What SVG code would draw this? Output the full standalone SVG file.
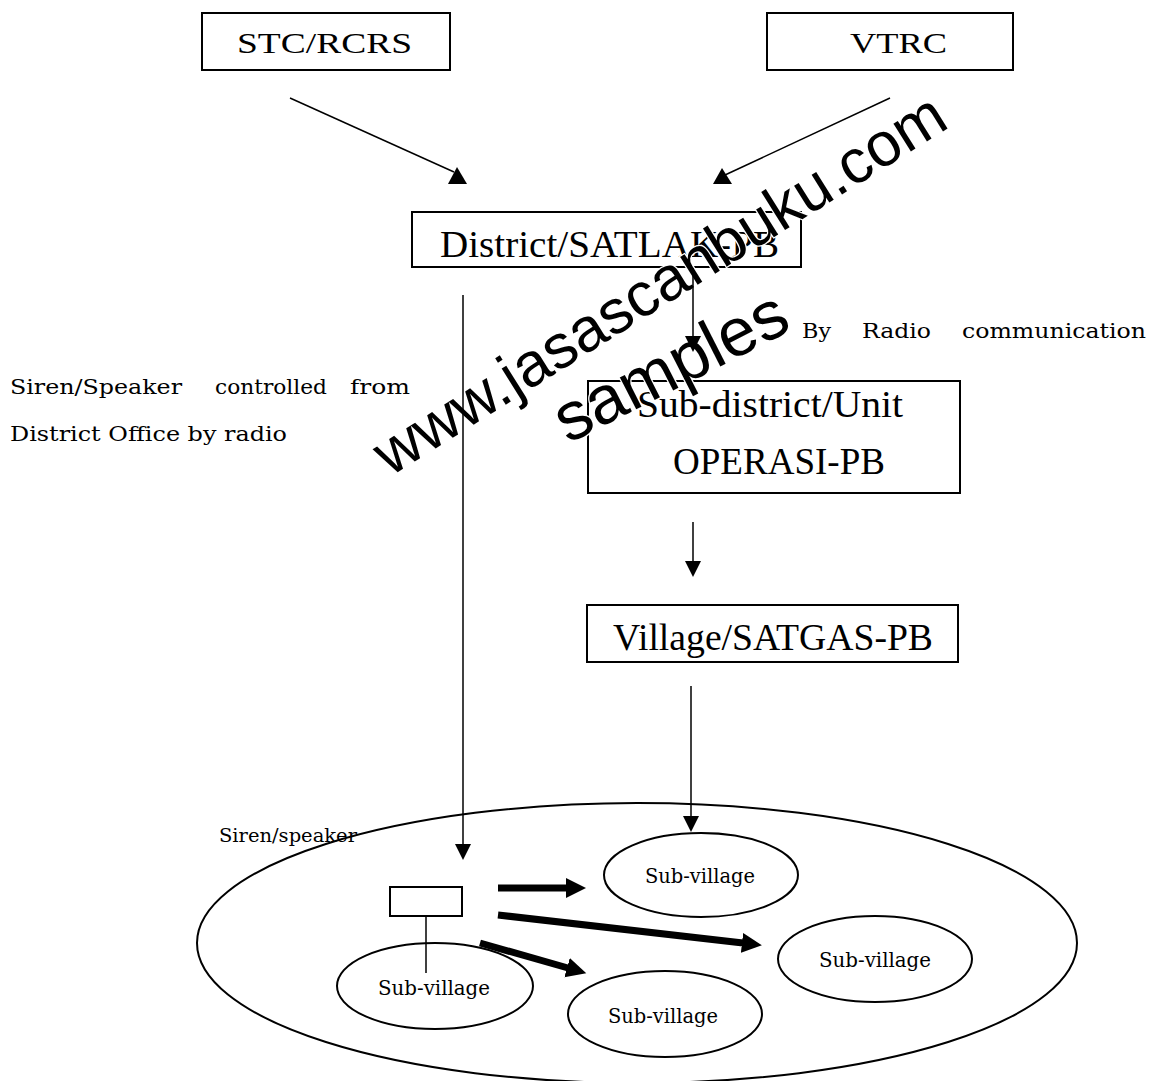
<svg xmlns="http://www.w3.org/2000/svg" width="1155" height="1081" viewBox="0 0 1155 1081">
<style>
.box{fill:#fff;stroke:#000;stroke-width:2}
.lbl{font-family:"Liberation Serif","Times New Roman",serif;fill:#000}
.sm{font-family:"DejaVu Serif","Liberation Serif",serif;fill:#000}
.ln{stroke:#000;stroke-width:1.5;fill:none}
.thick{stroke:#000;stroke-width:7;fill:none}
.ell{fill:none;stroke:#000;stroke-width:2}
.head{fill:#000;stroke:none}
.wm{font-family:"Liberation Sans",Arial,sans-serif;fill:#000;stroke:#fff;stroke-width:2.5;paint-order:stroke}
</style>
<defs>
<marker id="thin" markerUnits="userSpaceOnUse" markerWidth="18" markerHeight="18" viewBox="0 -9 18 18" refX="0" refY="0" orient="auto">
<path d="M0,-8 L16,0 L0,8 z" fill="#000"/>
</marker>
<marker id="fat" markerUnits="userSpaceOnUse" markerWidth="22" markerHeight="22" viewBox="0 -11 22 22" refX="1" refY="0" orient="auto">
<path d="M0,-10 L20,0 L0,10 z" fill="#000"/>
</marker>
</defs>
<rect width="1155" height="1081" fill="#fff"/>

<g id="area">
<ellipse class="ell" cx="637" cy="943" rx="440" ry="140"/>
</g>

<g id="stc">
<rect class="box" x="202" y="13" width="248" height="57"/>
<text class="lbl" x="237" y="53" font-size="30" textLength="175" lengthAdjust="spacingAndGlyphs">STC/RCRS</text>
</g>
<g id="vtrc">
<rect class="box" x="767" y="13" width="246" height="57"/>
<text class="lbl" x="850" y="53" font-size="30" textLength="97" lengthAdjust="spacingAndGlyphs">VTRC</text>
</g>
<g id="district">
<rect class="box" x="412" y="212" width="389" height="55"/>
<text class="lbl" x="440" y="257" font-size="38" textLength="339" lengthAdjust="spacingAndGlyphs">District/SATLAK-PB</text>
</g>
<g id="subdistrict">
<rect class="box" x="588" y="381" width="372" height="112"/>
<text class="lbl" x="637" y="417" font-size="38" textLength="266" lengthAdjust="spacingAndGlyphs">Sub-district/Unit</text>
<text class="lbl" x="673" y="474" font-size="38" textLength="212" lengthAdjust="spacingAndGlyphs">OPERASI-PB</text>
</g>
<g id="village">
<rect class="box" x="587" y="605" width="371" height="57"/>
<text class="lbl" x="613" y="650" font-size="38" textLength="320" lengthAdjust="spacingAndGlyphs">Village/SATGAS-PB</text>
</g>

<g id="siren">
<rect class="box" x="390" y="887" width="72" height="29"/>
<line class="ln" x1="426" y1="916" x2="426" y2="973"/>
<text class="sm" x="219" y="842" font-size="19" textLength="138" lengthAdjust="spacingAndGlyphs">Siren/speaker</text>
</g>

<g id="subvillage-1">
<ellipse class="ell" cx="435" cy="986" rx="98" ry="43"/>
<text class="sm" x="378" y="995" font-size="20" textLength="112" lengthAdjust="spacingAndGlyphs">Sub-village</text>
</g>
<g id="subvillage-2">
<ellipse class="ell" cx="701" cy="875" rx="97" ry="42"/>
<text class="sm" x="645" y="883" font-size="20" textLength="110" lengthAdjust="spacingAndGlyphs">Sub-village</text>
</g>
<g id="subvillage-3">
<ellipse class="ell" cx="875" cy="959" rx="97" ry="43"/>
<text class="sm" x="819" y="967" font-size="20" textLength="112" lengthAdjust="spacingAndGlyphs">Sub-village</text>
</g>
<g id="subvillage-4">
<ellipse class="ell" cx="665" cy="1014" rx="97" ry="43"/>
<text class="sm" x="608" y="1023" font-size="20" textLength="110" lengthAdjust="spacingAndGlyphs">Sub-village</text>
</g>

<g id="notes">
<text class="sm" y="394" font-size="21"><tspan x="10" textLength="172" lengthAdjust="spacingAndGlyphs">Siren/Speaker</tspan> <tspan x="215" textLength="112" lengthAdjust="spacingAndGlyphs">controlled</tspan> <tspan x="350" textLength="60" lengthAdjust="spacingAndGlyphs">from</tspan></text>
<text class="sm" x="10" y="441" font-size="21" textLength="277" lengthAdjust="spacingAndGlyphs">District Office by radio</text>
<text class="sm" y="338" font-size="21"><tspan x="802" textLength="29" lengthAdjust="spacingAndGlyphs">By</tspan> <tspan x="862" textLength="69" lengthAdjust="spacingAndGlyphs">Radio</tspan> <tspan x="962" textLength="184" lengthAdjust="spacingAndGlyphs">communication</tspan></text>
</g>

<g id="watermark">
<text class="wm" x="390" y="477" font-size="62" transform="rotate(-32 390 477)">www.jasascanbuku.com</text>
<text class="wm" x="568" y="444" font-size="68" transform="rotate(-27 568 444)">samples</text>
</g>

<g id="connectors">
<line class="ln" x1="290" y1="98" x2="454" y2="172"/>
<polygon class="head" points="457,167 448,184 467,184"/>
<line class="ln" x1="890" y1="98" x2="725" y2="175"/>
<polygon class="head" points="722,168 713,184 732,184"/>
<line class="ln" x1="463" y1="295" x2="463" y2="844" marker-end="url(#thin)"/>
<line class="ln" x1="693" y1="268" x2="693" y2="336" marker-end="url(#thin)"/>
<line class="ln" x1="693" y1="522" x2="693" y2="561" marker-end="url(#thin)"/>
<line class="ln" x1="691" y1="686" x2="691" y2="816" marker-end="url(#thin)"/>
<line class="thick" x1="498" y1="888" x2="567" y2="888" marker-end="url(#fat)"/>
<line class="thick" x1="498" y1="915" x2="743" y2="943" marker-end="url(#fat)"/>
<line class="thick" x1="480" y1="943" x2="568" y2="968" marker-end="url(#fat)"/>
</g>
</svg>
